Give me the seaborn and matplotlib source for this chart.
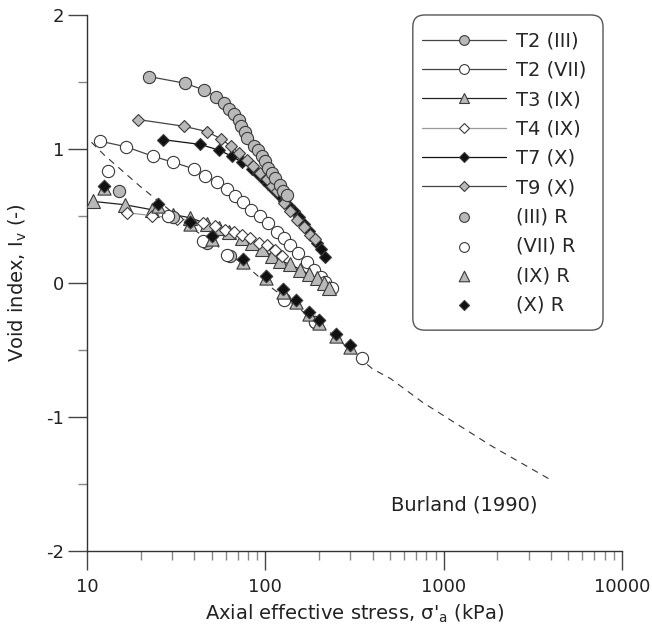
import numpy as np
import pandas as pd
import matplotlib
matplotlib.use("Agg")
import matplotlib.pyplot as plt
import seaborn as sns
from matplotlib.patches import FancyBboxPatch
from matplotlib.ticker import LogLocator, FixedLocator, NullFormatter, FixedFormatter

# ---------------- data ----------------
t2_iii_s = [22.4, 35.6, 45.4, 53.1, 58.3, 62.3, 66.4, 70.8, 73, 76.5, 78.9, 86, 90.6, 95.5,
            99.8, 104, 109, 114, 121, 126, 132]
t2_iii_v = [1.54, 1.49, 1.44, 1.39, 1.346, 1.30, 1.258, 1.213, 1.171, 1.126, 1.079, 1.026, 0.991, 0.946,
            0.909, 0.86, 0.822, 0.784, 0.734, 0.69, 0.659]

t2_vii_s = [11.9, 16.6, 23.4, 30.5, 39.6, 46, 53.5, 61, 67.8, 75, 83.2, 92.9, 104, 116, 127, 138,
            152, 171, 187, 204, 217, 237]
t2_vii_v = [1.058, 1.016, 0.946, 0.901, 0.852, 0.80, 0.751, 0.702, 0.652, 0.601, 0.547, 0.497, 0.447,
            0.377, 0.335, 0.285, 0.222, 0.16, 0.097, 0.047, 0.01, -0.04]

t3_ix_s = [10.8, 16.3, 23.1, 30.5, 37.9, 47, 55, 62.3, 74, 84, 95.5, 109, 121, 138, 157, 175, 195, 212, 229]
t3_ix_v = [0.609, 0.584, 0.547, 0.51, 0.487, 0.442, 0.41, 0.384, 0.335, 0.30, 0.25, 0.205, 0.165, 0.14,
           0.10, 0.068, 0.035, 0.0, -0.04]

t4_ix_s = [16.7, 23.1, 32, 45, 52.4, 59.6, 66.4, 74, 82.4, 91.7, 102, 114, 124]
t4_ix_v = [0.525, 0.503, 0.48, 0.45, 0.422, 0.397, 0.38, 0.36, 0.335, 0.30, 0.28, 0.247, 0.205]

t7_x_s = [26.6, 43.2, 55.3, 65, 74, 84, 91, 97.8, 104, 111, 119, 127, 135, 144, 154, 164, 175, 187, 196, 204, 217]
t7_x_v = [1.07, 1.034, 0.99, 0.946, 0.90, 0.85, 0.81, 0.765, 0.735, 0.70, 0.66, 0.615, 0.578, 0.54, 0.49,
          0.44, 0.39, 0.335, 0.295, 0.255, 0.195]

t9_x_s = [19.3, 34.8, 47, 56.4, 64.2, 71.5, 78.9, 85, 93.7, 102, 109, 116, 127, 138, 150, 164, 179, 189]
t9_x_v = [1.22, 1.17, 1.13, 1.076, 1.02, 0.97, 0.921, 0.871, 0.822, 0.777, 0.727, 0.69, 0.60, 0.534,
          0.472, 0.417, 0.36, 0.325]

iii_r_s = [15.1, 30.5, 47, 63, 128, 191]
iii_r_v = [0.684, 0.49, 0.30, 0.205, -0.12, -0.29]

vii_r_s = [13.1, 28.6, 45, 61, 128, 191, 349]
vii_r_v = [0.834, 0.50, 0.31, 0.21, -0.127, -0.29, -0.56]

ix_r_s = [12.5, 24.9, 37.6, 50.1, 75, 101, 126, 149, 175, 199, 250, 300]
ix_r_v = [0.71, 0.575, 0.44, 0.33, 0.16, 0.035, -0.065, -0.145, -0.232, -0.295, -0.395, -0.48]

x_r_s = [12.5, 24.9, 37.6, 50.1, 75, 101, 126, 149, 175, 199, 250, 300]
x_r_v = [0.727, 0.592, 0.455, 0.347, 0.177, 0.052, -0.047, -0.127, -0.215, -0.277, -0.377, -0.464]

burland_s = [10.6, 12.5, 19.9, 39.6, 81, 106.6, 222, 398, 504, 759, 1837, 3910]
burland_v = [1.05, 0.955, 0.72, 0.40, 0.11, -0.028, -0.35, -0.64, -0.714, -0.889, -1.213, -1.463]

labels = ["T2 (III)", "T2 (VII)", "T3 (IX)", "T4 (IX)", "T7 (X)", "T9 (X)",
          "(III) R", "(VII) R", "(IX) R", "(X) R"]
y_ticks = [-2, -1, 0, 1, 2]
x_ticks = [10, 100, 1000, 10000]
x_tick_labels = ["10", "100", "1000", "10000"]

# ---------------- style ----------------
sns.set_style("ticks")
plt.rcParams["font.family"] = ["DejaVu Sans"]
plt.rcParams["axes.unicode_minus"] = False
plt.rcParams["mathtext.default"] = "regular"

GRAY = "#b9b9b9"
EDGE = "#3a3a3a"
FS = 13
LFS = 14
MS_O, MS_T, MS_D = 8.8, 9.5, 6.4

fig = plt.figure(figsize=(6.52, 6.35), dpi=100)
ax = fig.add_axes([0.1334, 0.1323, 0.8206, 0.8441])
ax.set_xscale("log")

def curve(s, v, marker, fc, lc, ms, z, label):
    df = pd.DataFrame({"s": s, "v": v})
    sns.lineplot(data=df, x="s", y="v", ax=ax, sort=False, estimator=None,
                 color=lc, lw=0.9, marker=marker, markersize=ms,
                 markerfacecolor=fc, markeredgecolor=EDGE, markeredgewidth=0.8,
                 zorder=z, label=label, legend=False)

def pts(s, v, marker, fc, ms, z, label):
    df = pd.DataFrame({"s": s, "v": v})
    sns.scatterplot(data=df, x="s", y="v", ax=ax, marker=marker, s=ms ** 2,
                    color=fc, edgecolor=EDGE, linewidth=0.8, zorder=z, label=label, legend=False)

# Burland line
sns.lineplot(x=burland_s, y=burland_v, ax=ax, sort=False, estimator=None, color="#333333",
             lw=0.8, linestyle=(0, (6, 5)), zorder=1)

curve(t2_vii_s, t2_vii_v, "o", "white", "#444444", MS_O, 3, labels[1])
curve(t3_ix_s, t3_ix_v, "^", GRAY, "#222222", MS_T, 4, labels[2])
curve(t4_ix_s, t4_ix_v, "D", "white", "#999999", MS_D, 5, labels[3])
curve(t7_x_s, t7_x_v, "D", "#111111", "#111111", MS_D, 6, labels[4])
curve(t9_x_s, t9_x_v, "D", GRAY, "#444444", MS_D, 7, labels[5])
curve(t2_iii_s, t2_iii_v, "o", GRAY, "#444444", MS_O, 8, labels[0])

pts(iii_r_s, iii_r_v, "o", GRAY, MS_O, 9, labels[6])
pts(vii_r_s, vii_r_v, "o", "white", MS_O, 10, labels[7])
pts(ix_r_s, ix_r_v, "^", GRAY, MS_T, 11, labels[8])
pts(x_r_s, x_r_v, "D", "#111111", MS_D, 12, labels[9])

ax.text(504, -1.66, "Burland (1990)", fontsize=LFS, ha="left", va="center", color="#222222")

# axes
ax.set_xlim(10, 10000)
ax.set_ylim(-2, 2)
ax.xaxis.set_major_locator(FixedLocator(x_ticks))
ax.xaxis.set_major_formatter(FixedFormatter(x_tick_labels))
ax.xaxis.set_minor_locator(LogLocator(base=10, subs=np.arange(2, 10)))
ax.xaxis.set_minor_formatter(NullFormatter())
ax.yaxis.set_major_locator(FixedLocator(y_ticks))
ax.yaxis.set_minor_locator(FixedLocator([-1.5, -0.5, 0.5, 1.5]))
ax.tick_params(which="major", direction="out", length=13.5, width=1, color="#444444",
               labelsize=FS, labelcolor="#222222")
ax.tick_params(axis="y", which="major", pad=3)
ax.tick_params(axis="x", which="major", pad=6)
ax.tick_params(which="minor", direction="out", length=6.5, width=1, color="#888888")
for sp in ["top", "right"]:
    ax.spines[sp].set_visible(False)
for sp in ["left", "bottom"]:
    ax.spines[sp].set_color("#333333")
    ax.spines[sp].set_linewidth(1)

ax.set_xlabel("Axial effective stress, σ'$_\\mathrm{a}$ (kPa)", fontsize=LFS, color="#222222", labelpad=5)
ax.set_ylabel("Void index, I$_\\mathrm{v}$ (-)", fontsize=LFS, color="#222222")
ax.yaxis.set_label_coords(-0.108, 0.5)

# legend in reference order, with a separately drawn rounded frame
handles, labs = ax.get_legend_handles_labels()
hmap = dict(zip(labs, handles))
leg = ax.legend([hmap[l] for l in labels], labels, loc="upper left",
                bbox_to_anchor=(0.626, 0.969), fontsize=LFS, frameon=False,
                handlelength=4.3, handletextpad=0.55, labelspacing=0.53, borderpad=0,
                markerscale=0.8, borderaxespad=0)
leg.set_zorder(30)
frame = FancyBboxPatch((0.609, 0.412), 0.9645 - 0.609, 1.0 - 0.412,
                       boxstyle="round,pad=0,rounding_size=0.022", transform=ax.transAxes,
                       facecolor="white", edgecolor="#555555", linewidth=1, clip_on=False, zorder=25)
ax.add_patch(frame)

fig.savefig("out.png", dpi=100)
